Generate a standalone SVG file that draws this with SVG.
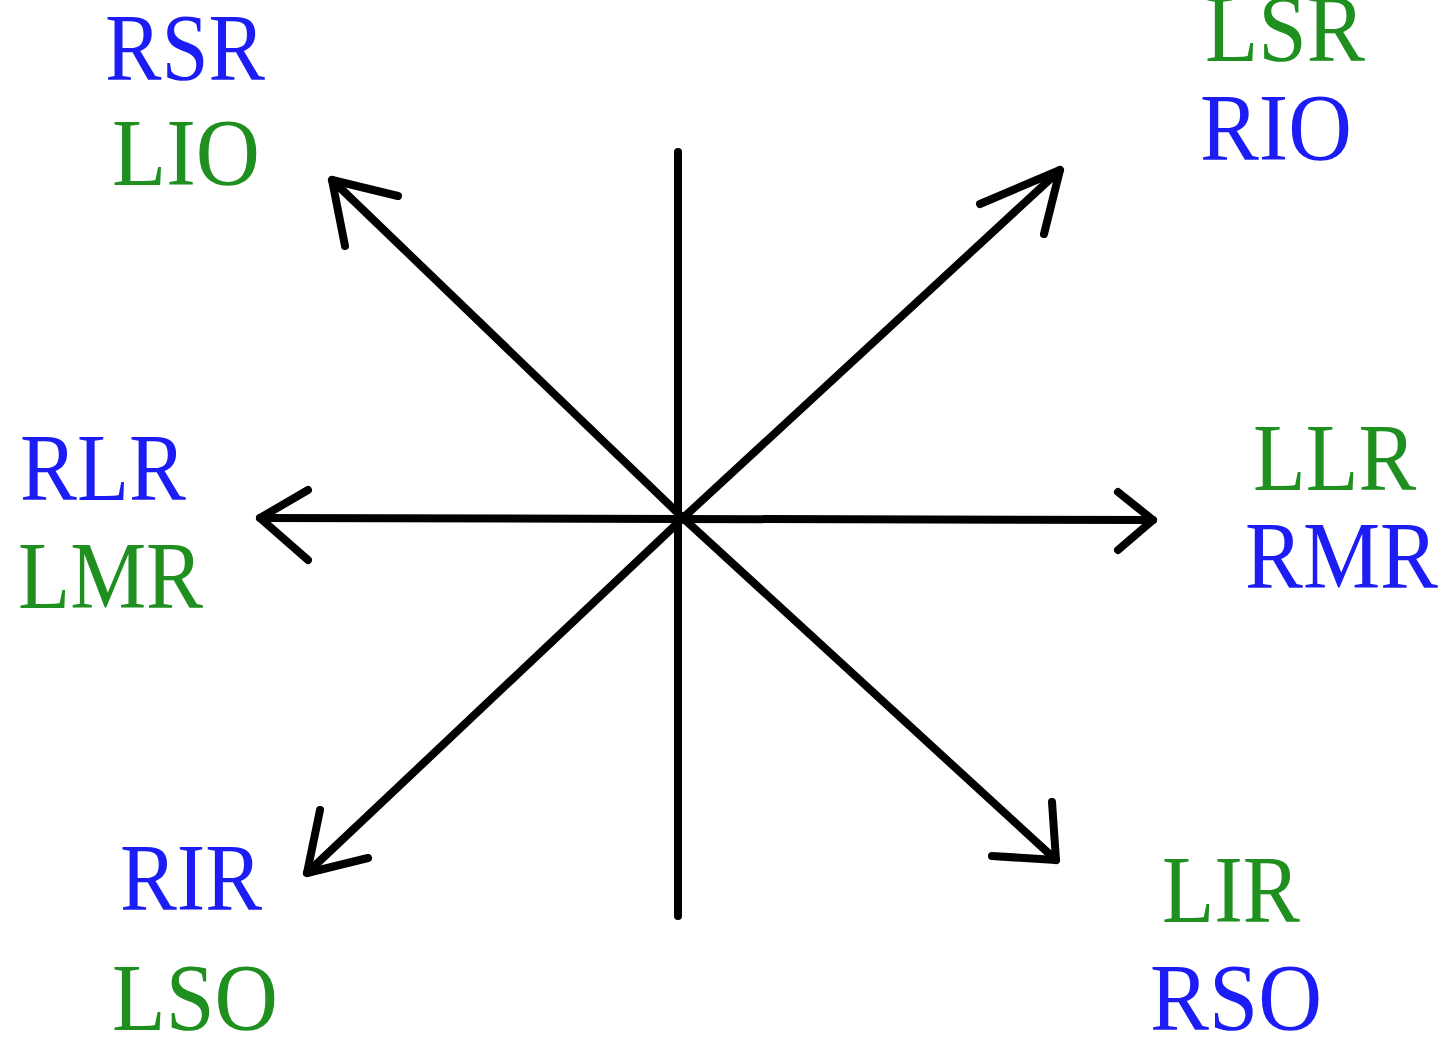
<svg xmlns="http://www.w3.org/2000/svg" width="1449" height="1041" viewBox="0 0 1449 1041">
<style>
.t{font-family:"Liberation Serif","DejaVu Serif",serif;font-size:96px}
.b{fill:#1c1cf5}
.g{fill:#1f8f1f}
.ln{stroke:#000;stroke-width:8;fill:none;stroke-linecap:round;stroke-linejoin:round}
</style>
<rect width="1449" height="1041" fill="#fff"/>
<g id="connectors">
<line class="ln" x1="678" y1="152" x2="678" y2="916"/>
<line class="ln" x1="260" y1="518" x2="1153" y2="520"/>
<line class="ln" x1="683" y1="518" x2="332" y2="180"/>
<line class="ln" x1="683" y1="518" x2="1060" y2="170"/>
<line class="ln" x1="683" y1="518" x2="307" y2="873"/>
<line class="ln" x1="683" y1="518" x2="1056" y2="860"/>
<polyline class="ln" points="308,490 260,518 308,560"/>
<polyline class="ln" points="1118,492 1153,520 1118,550"/>
<polyline class="ln" points="398,196 332,180 345,246"/>
<polyline class="ln" points="980,204 1060,170 1044,234"/>
<polyline class="ln" points="320,810 307,873 368,858"/>
<polyline class="ln" points="1052,802 1056,860 992,856"/>
</g>
<g id="n-ul"><text class="t b" x="105" y="80" textLength="160" lengthAdjust="spacingAndGlyphs">RSR</text><text class="t g" x="112" y="185" textLength="148" lengthAdjust="spacingAndGlyphs">LIO</text></g>
<g id="n-ur"><text class="t g" x="1205" y="61" textLength="160" lengthAdjust="spacingAndGlyphs">LSR</text><text class="t b" x="1200" y="160" textLength="152" lengthAdjust="spacingAndGlyphs">RIO</text></g>
<g id="n-l"><text class="t b" x="20" y="500" textLength="166" lengthAdjust="spacingAndGlyphs">RLR</text><text class="t g" x="18" y="608" textLength="185" lengthAdjust="spacingAndGlyphs">LMR</text></g>
<g id="n-r"><text class="t g" x="1253" y="490" textLength="163" lengthAdjust="spacingAndGlyphs">LLR</text><text class="t b" x="1245" y="588" textLength="193" lengthAdjust="spacingAndGlyphs">RMR</text></g>
<g id="n-ll"><text class="t b" x="120" y="910" textLength="142" lengthAdjust="spacingAndGlyphs">RIR</text><text class="t g" x="112" y="1030" textLength="166" lengthAdjust="spacingAndGlyphs">LSO</text></g>
<g id="n-lr"><text class="t g" x="1162" y="922" textLength="138" lengthAdjust="spacingAndGlyphs">LIR</text><text class="t b" x="1150" y="1030" textLength="172" lengthAdjust="spacingAndGlyphs">RSO</text></g>
</svg>
